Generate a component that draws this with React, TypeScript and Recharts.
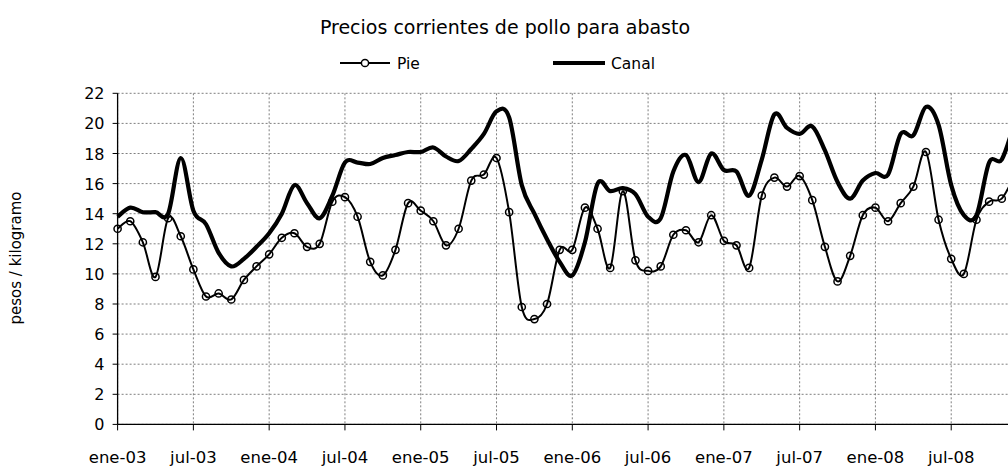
import React from 'react';
import { LineChart, Line, XAxis, YAxis, CartesianGrid } from 'recharts';

const monthIndex: number[] = Array.from({ length: 72 }, (_, i) => i);

const pie: number[] = [
  13.0, 13.5, 12.1, 9.8, 13.7, 12.5, 10.3, 8.5, 8.7, 8.3, 9.6, 10.5,
  11.3, 12.4, 12.7, 11.8, 12.0, 14.8, 15.1, 13.8, 10.8, 9.9, 11.6, 14.7,
  14.2, 13.5, 11.9, 13.0, 16.2, 16.6, 17.7, 14.1, 7.8, 7.0, 8.0, 11.6,
  11.6, 14.4, 13.0, 10.4, 15.5, 10.9, 10.2, 10.5, 12.6, 12.9, 12.1, 13.9,
  12.2, 11.9, 10.4, 15.2, 16.4, 15.8, 16.5, 14.9, 11.8, 9.5, 11.2, 13.9,
  14.4, 13.5, 14.7, 15.8, 18.1, 13.6, 11.0, 10.0, 13.6, 14.8, 15.0, 16.5,
];

const canal: number[] = [
  13.8, 14.4, 14.1, 14.1, 14.0, 17.7, 14.2, 13.3, 11.4, 10.5, 11.0, 11.8,
  12.7, 14.0, 15.9, 14.7, 13.7, 15.2, 17.4, 17.4, 17.3, 17.7, 17.9, 18.1,
  18.1, 18.4, 17.8, 17.5, 18.3, 19.3, 20.8, 20.4, 15.9, 14.0, 12.3, 10.8,
  9.9, 12.1, 16.0, 15.5, 15.7, 15.3, 13.8, 13.7, 16.8, 17.9, 16.1, 18.0,
  16.9, 16.8, 15.2, 17.6, 20.6, 19.7, 19.3, 19.8, 18.2, 16.1, 15.0, 16.2,
  16.7, 16.6, 19.3, 19.2, 21.1, 19.9, 15.9, 13.9, 13.9, 17.4, 17.6, 20.0,
];

const xTicks: number[] = [0, 6, 12, 18, 24, 30, 36, 42, 48, 54, 60, 66];
const xTickLabels: string[] = [
  'ene-03', 'jul-03', 'ene-04', 'jul-04', 'ene-05', 'jul-05', 'ene-06',
  'jul-06', 'ene-07', 'jul-07', 'ene-08', 'jul-08',
];
const yTicks: number[] = [0, 2, 4, 6, 8, 10, 12, 14, 16, 18, 20, 22];

const data = monthIndex.map((i) => ({ i, pie: pie[i], canal: canal[i] }));

const FONT = '"DejaVu Sans", Verdana, sans-serif';

// Excel-like smoothed line (Catmull-Rom style cubic Bezier)
const excelSmooth: any = (context: any) => {
  let pts: number[][] = [];
  return {
    areaStart() {},
    areaEnd() {},
    lineStart() {
      pts = [];
    },
    lineEnd() {
      const n = pts.length;
      if (!n) return;
      context.moveTo(pts[0][0], pts[0][1]);
      for (let k = 0; k < n - 1; k++) {
        const p0 = pts[k - 1] || pts[k];
        const p1 = pts[k];
        const p2 = pts[k + 1];
        const p3 = pts[k + 2] || p2;
        context.bezierCurveTo(
          p1[0] + (p2[0] - p0[0]) / 6,
          p1[1] + (p2[1] - p0[1]) / 6,
          p2[0] - (p3[0] - p1[0]) / 6,
          p2[1] - (p3[1] - p1[1]) / 6,
          p2[0],
          p2[1]
        );
      }
    },
    point(x: number, y: number) {
      pts.push([+x, +y]);
    },
  };
};

const XTick = (props: any) => {
  const { x, y, payload } = props;
  const idx = xTicks.indexOf(payload.value);
  return (
    <text x={x} y={y} dy={30.5} textAnchor="middle" fontFamily={FONT} fontSize={16.5} fill="#000">
      {xTickLabels[idx]}
    </text>
  );
};

const YTick = (props: any) => {
  const { y, payload } = props;
  return (
    <text x={104.5} y={y} dy={6} textAnchor="end" fontFamily={FONT} fontSize={16} fill="#000">
      {payload.value}
    </text>
  );
};

const PieDot = (props: any) => {
  const { cx, cy } = props;
  if (cx == null || cy == null) return null;
  return <circle cx={cx} cy={cy} r={3.6} fill="none" stroke="#000" strokeWidth={1.5} />;
};

export default function App() {
  return (
    <div
      style={{
        position: 'fixed',
        left: 0,
        top: 0,
        width: 1008,
        height: 469,
        overflow: 'hidden',
        background: '#fff',
      }}
    >
      <LineChart
        width={1040}
        height={469}
        data={data}
        margin={{ top: 93.3, right: 13, bottom: 0, left: 0 }}
      >
        <CartesianGrid stroke="#7f7f7f" strokeDasharray="2 2" strokeWidth={1} />
        <XAxis
          dataKey="i"
          type="number"
          domain={[0, 72]}
          ticks={xTicks}
          interval={0}
          height={44.6}
          axisLine={{ stroke: '#000', strokeWidth: 1.3 }}
          tickLine={{ stroke: '#000' }}
          tickSize={6}
          tick={<XTick />}
        />
        <YAxis
          type="number"
          domain={[0, 22]}
          ticks={yTicks}
          interval={0}
          width={117.6}
          axisLine={{ stroke: '#000', strokeWidth: 1.3 }}
          tickLine={{ stroke: '#000' }}
          tickSize={5}
          tick={<YTick />}
        />
        <Line
          dataKey="canal"
          type={excelSmooth}
          stroke="#000"
          strokeWidth={4.2}
          dot={false}
          activeDot={false}
          isAnimationActive={false}
        />
        <Line
          dataKey="pie"
          type={excelSmooth}
          stroke="#000"
          strokeWidth={2}
          dot={<PieDot />}
          activeDot={false}
          isAnimationActive={false}
        />
      </LineChart>
      <svg
        width={1008}
        height={469}
        style={{ position: 'absolute', left: 0, top: 0, pointerEvents: 'none' }}
      >
        <text x={505} y={34} textAnchor="middle" fontFamily={FONT} fontSize={19} fill="#000">
          Precios corrientes de pollo para abasto
        </text>
        <line x1={340} y1={63} x2={390} y2={63} stroke="#000" strokeWidth={2} />
        <circle cx={365} cy={63} r={3.6} fill="#fff" stroke="#000" strokeWidth={1.5} />
        <text x={397} y={68.5} fontFamily={FONT} fontSize={15.5} fill="#000">
          Pie
        </text>
        <line x1={553} y1={63} x2={605} y2={63} stroke="#000" strokeWidth={4} />
        <text x={611} y={68.5} fontFamily={FONT} fontSize={15.5} fill="#000">
          Canal
        </text>
        <text
          x={0}
          y={0}
          transform="translate(21,258) rotate(-90)"
          textAnchor="middle"
          fontFamily={FONT}
          fontSize={15}
          fill="#000"
        >
          pesos / kilogramo
        </text>
      </svg>
    </div>
  );
}
